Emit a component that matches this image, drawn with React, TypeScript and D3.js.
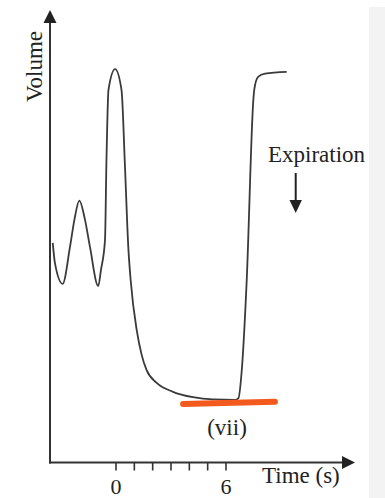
import React from 'react';
import * as d3 from 'd3';

// time (s) and volume (arbitrary units)
const times = [
  -3.45, -3.33, -2.91, -2.51, -2.27, -2.0, -1.69, -1.42, -0.97, -0.82, -0.6, -0.52, -0.41, -0.05,
  0.3, 0.49, 0.67, 0.8, 1.13, 1.4, 1.67, 2.22, 3.11, 4.2, 5.29, 6.49, 6.68, 6.86, 7.13, 7.49,
  7.54, 7.75, 8.13, 9.31,
];
const volumes = [
  48.7, 44.2, 39.6, 47.8, 53.8, 58.1, 53.8, 47.8, 39.1, 42.7, 49.3, 67.1, 82.7, 87.3, 82.7, 65.6,
  47.8, 40.4, 29.3, 23.8, 20.4, 17.6, 15.6, 14.4, 13.9, 13.8, 14.2, 20.4, 40.4, 80.4, 82.7, 85.6,
  86.3, 86.7,
];
const tickValues = [0, 1, 2, 3, 4, 5, 6];
const tickLabels = ['0', '', '', '', '', '', '6'];
// the orange residual-volume marker
const markerTimes = [3.66, 8.67];
const markerVolumes = [12.9, 13.4];

const W = 385;
const H = 498;
const font = "'Liberation Serif', 'Times New Roman', Times, 'DejaVu Serif', serif";

export default function App() {
  const x = d3.scaleLinear().domain([0, 6]).range([116, 226]);
  const y = d3.scaleLinear().domain([0, 100]).range([462, 12]);

  const pts = times.map((t, i) => [t, volumes[i]] as [number, number]);
  const line = d3
    .line<[number, number]>()
    .x((d) => x(d[0]))
    .y((d) => y(d[1]))
    .curve(d3.curveMonotoneX);

  const axisY = 462.5;
  const axisX = 50;
  const txt = { fontFamily: font, fontSize: 23, fill: '#222' };

  return (
    <svg width={W} height={H} style={{ position: 'absolute', left: 0, top: 0 }}>
      <rect x={0} y={0} width={W} height={H} fill="#fff" />
      <rect x={369} y={7} width={W - 369} height={H - 7} fill="#f3f3f3" />

      {/* axes */}
      <line x1={axisX} y1={20} x2={axisX} y2={axisY + 1} stroke="#333" strokeWidth={2} />
      <path d={`M${axisX},10 L${axisX - 6.5},23 L${axisX + 6.5},23 Z`} fill="#222" />
      <line x1={axisX - 1} y1={axisY} x2={345} y2={axisY} stroke="#333" strokeWidth={2} />
      <path d={`M355,${axisY} L342,${axisY - 6.5} L342,${axisY + 6.5} Z`} fill="#222" />

      {tickValues.map((t, i) => (
        <g key={t}>
          <line x1={x(t)} y1={axisY} x2={x(t)} y2={axisY + 8} stroke="#333" strokeWidth={1.6} />
          {tickLabels[i] && (
            <text x={x(t)} y={494} textAnchor="middle" style={{ ...txt, fontSize: 22 }}>
              {tickLabels[i]}
            </text>
          )}
        </g>
      ))}

      <text x={262} y={483} style={txt}>
        Time (s)
      </text>
      <text transform="translate(41.5,66.5) rotate(-90)" textAnchor="middle" style={txt}>
        Volume
      </text>

      {/* volume trace */}
      <path d={line(pts) ?? ''} fill="none" stroke="#3a3a3a" strokeWidth={1.8} />

      {/* orange marker */}
      <line
        x1={x(markerTimes[0])}
        y1={y(markerVolumes[0])}
        x2={x(markerTimes[1])}
        y2={y(markerVolumes[1])}
        stroke="#f25a1e"
        strokeWidth={6}
        strokeLinecap="round"
      />
      <text x={227} y={435} textAnchor="middle" style={txt}>
        (vii)
      </text>

      {/* expiration annotation */}
      <text x={268} y={162} style={txt}>
        Expiration
      </text>
      <line x1={295.7} y1={173} x2={295.7} y2={203} stroke="#222" strokeWidth={2} />
      <path d="M295.7,213 L289.5,200 L301.9,200 Z" fill="#222" />
    </svg>
  );
}
